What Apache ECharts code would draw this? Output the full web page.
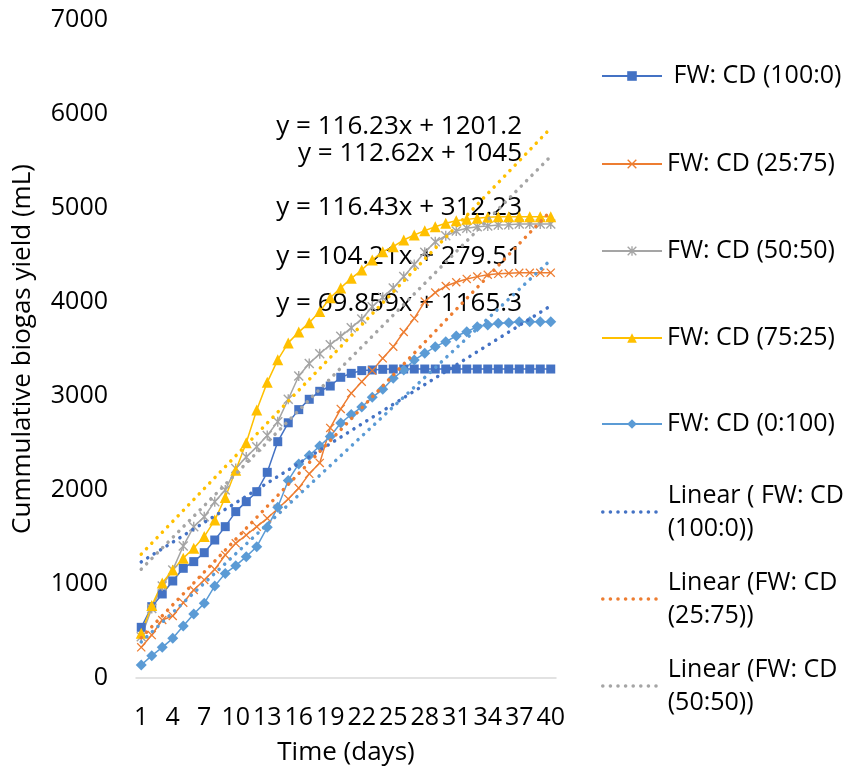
<!DOCTYPE html>
<html>
<head>
<meta charset="utf-8">
<script src="https://cdn.jsdelivr.net/npm/echarts@6/dist/echarts.min.js"></script>
<style>
  html, body { margin: 0; padding: 0; background: #fff; }
  #chart { width: 866px; height: 778px; }
</style>
</head>
<body>
<div id="chart"></div>
<script>
const days = ['1', '2', '3', '4', '5', '6', '7', '8', '9', '10', '11', '12', '13', '14', '15', '16', '17', '18', '19', '20',
  '21', '22', '23', '24', '25', '26', '27', '28', '29', '30', '31', '32', '33', '34', '35', '36', '37', '38', '39', '40']

const fw100 = [539, 759, 894, 1032, 1167, 1238, 1333, 1468, 1610, 1770, 1876, 1982, 2188, 2514, 2715, 2855, 2965, 3050, 3106, 3199,
  3241, 3270, 3277, 3284, 3287, 3287, 3287, 3287, 3287, 3287, 3287, 3287, 3287, 3287, 3287, 3287, 3287, 3287, 3287, 3287]
const fw25 = [326, 457, 617, 660, 801, 936, 1043, 1156, 1309, 1433, 1521, 1610, 1699, 1800, 1905, 2020, 2172, 2288, 2660, 2863,
  3030, 3152, 3270, 3401, 3525, 3681, 3826, 4004, 4100, 4170, 4210, 4245, 4270, 4290, 4300, 4305, 4310, 4310, 4310, 4312]
const fw50 = [440, 740, 980, 1150, 1404, 1610, 1716, 1876, 2000, 2230, 2350, 2460, 2580, 2727, 2965, 3213, 3345, 3450, 3545, 3635,
  3725, 3820, 3950, 4050, 4150, 4270, 4400, 4530, 4640, 4705, 4755, 4784, 4801, 4809, 4819, 4823, 4830, 4830, 4830, 4830]
const fw75 = [475, 770, 1010, 1150, 1275, 1380, 1505, 1680, 1920, 2210, 2503, 2851, 3145, 3385, 3565, 3680, 3780, 3900, 4045, 4150,
  4252, 4340, 4447, 4535, 4589, 4660, 4713, 4759, 4801, 4837, 4865, 4879, 4890, 4901, 4908, 4908, 4908, 4908, 4908, 4908]
const fw0 = [138, 238, 326, 422, 553, 681, 794, 979, 1113, 1195, 1291, 1397, 1603, 1816, 2102, 2277, 2367, 2468, 2570, 2712,
  2803, 2883, 2986, 3071, 3188, 3277, 3383, 3454, 3525, 3578, 3638, 3684, 3738, 3755, 3773, 3780, 3790, 3790, 3790, 3790]

// trendline coefficients as printed on the chart (same order as series)
const seriesNames = [' FW: CD (100:0)', 'FW: CD (25:75)', 'FW: CD (50:50)', 'FW: CD (75:25)', 'FW: CD (0:100)']
const trendNames = ['Linear ( FW: CD\n(100:0))', 'Linear (FW: CD\n(25:75))', 'Linear (FW: CD\n(50:50))', 'Linear (FW: CD\n(75:25))', 'Linear (FW: CD\n(0:100))']
const slopes = [69.859, 116.43, 112.62, 116.23, 104.21]
const intercepts = [1165.3, 312.23, 1045, 1201.2, 279.51]
const equations = ['y = 116.23x + 1201.2', 'y = 112.62x + 1045', 'y = 116.43x + 312.23', 'y = 104.21x + 279.51', 'y = 69.859x + 1165.3']
const yTicks = [0, 1000, 2000, 3000, 4000, 5000, 6000, 7000]

const colors = ['#4472C4', '#ED7D31', '#A5A5A5', '#FFC000', '#5B9BD5']
const FONT = 'Open Sans'

const xMark = 'path://M0,1L1,0L10,9L9,10Z M9,0L10,1L1,10L0,9Z'
const starMark = 'path://M4.3,0L5.7,0L5.7,10L4.3,10Z M0,1L1,0L10,9L9,10Z M9,0L10,1L1,10L0,9Z'
const symbols = [['rect', 9], [xMark, 9], [starMark, 10], ['triangle', 11], ['diamond', 11]]
const dotStyle = { width: 3.5, type: [0.1, 7.5], cap: 'round' }

const chart = echarts.init(document.getElementById('chart'))

const dataSets = [fw100, fw25, fw50, fw75, fw0]

const series = []
dataSets.forEach((vals, i) => {
  series.push({
    name: seriesNames[i],
    type: 'line',
    data: vals,
    symbol: symbols[i][0],
    symbolSize: symbols[i][1],
    showAllSymbol: true,
    lineStyle: { color: colors[i], width: 1.5 },
    itemStyle: { color: colors[i] },
    emphasis: { disabled: true },
    z: 2
  })
})
dataSets.forEach((vals, i) => {
  series.push({
    name: trendNames[i],
    type: 'line',
    data: days.map(d => slopes[i] * Number(d) + intercepts[i]),
    symbol: 'none',
    lineStyle: Object.assign({ color: colors[i] }, dotStyle),
    itemStyle: { color: colors[i], opacity: 0 },
    emphasis: { disabled: true },
    z: 3
  })
})

// legend rows (Excel legend is clipped after the 8th entry)
const legendRows = [
  [seriesNames[0], 76, false],
  [seriesNames[1], 164, false],
  [seriesNames[2], 251, false],
  [seriesNames[3], 338, false],
  [seriesNames[4], 424, false],
  [trendNames[0], 512, true],
  [trendNames[1], 599, true],
  [trendNames[2], 686, true]
]
const legends = legendRows.map(([name, cy, twoLine]) => ({
  data: [twoLine ? { name: name, itemStyle: { opacity: 0 }, lineStyle: dotStyle } : name],
  orient: 'vertical',
  left: 601,
  top: twoLine ? cy - 49.5 : cy - 16.5,
  padding: 0,
  itemWidth: 60,
  itemHeight: 12,
  itemGap: 0,
  selectedMode: false,
  textStyle: {
    fontFamily: FONT,
    fontSize: 25,
    color: '#000',
    lineHeight: 33,
    padding: twoLine ? [33, 0, 0, 0] : 0
  }
}))

const eqY = [131, 158, 212, 261, 308]
const graphics = equations.map((t, i) => ({
  type: 'text',
  right: 866 - 522,
  top: eqY[i] - 17,
  style: { text: t, font: `26px "${FONT}"`, fill: '#000' }
}))

const option = {
  animation: false,
  backgroundColor: '#fff',
  grid: { left: 136, right: 310, top: 20, bottom: 100 },
  legend: legends,
  graphic: graphics,
  xAxis: {
    type: 'category',
    data: days,
    boundaryGap: true,
    name: 'Time (days)',
    nameLocation: 'middle',
    nameGap: 62,
    nameTextStyle: { fontFamily: FONT, fontSize: 26, color: '#000' },
    axisLine: { lineStyle: { color: '#D9D9D9', width: 1.5 } },
    axisTick: { show: false },
    axisLabel: {
      interval: 2,
      margin: 27,
      fontFamily: FONT,
      fontSize: 25,
      color: '#000',
      hideOverlap: false
    },
    splitLine: { show: false }
  },
  yAxis: {
    type: 'value',
    min: yTicks[0],
    max: yTicks[yTicks.length - 1],
    interval: 1000,
    name: 'Cummulative biogas yield (mL)',
    nameLocation: 'middle',
    nameGap: 100,
    nameTextStyle: { fontFamily: FONT, fontSize: 26, color: '#000' },
    axisLine: { show: false },
    axisTick: { show: false },
    axisLabel: { margin: 28, fontFamily: FONT, fontSize: 25, color: '#000', formatter: v => String(v) },
    splitLine: { show: false }
  },
  series: series
}

chart.setOption(option)
window.addEventListener('resize', () => chart.resize())
</script>
</body>
</html>
